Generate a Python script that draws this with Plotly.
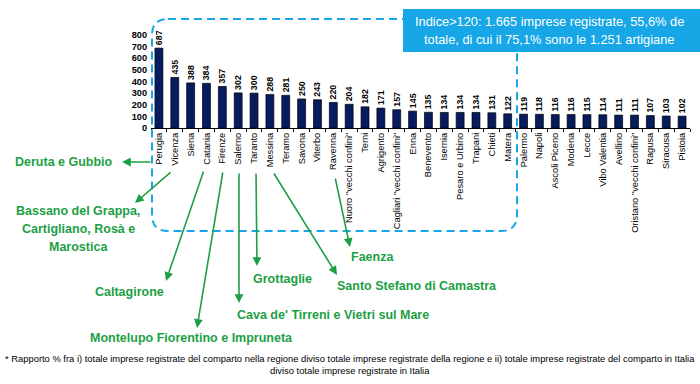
import plotly.graph_objects as go

categories = ["Perugia", "Vicenza", "Siena", "Catania", "Firenze", "Salerno", "Taranto",
              "Messina", "Teramo", "Savona", "Viterbo", "Ravenna", 'Nuoro "vecchi confini"',
              "Terni", "Agrigento", 'Cagliari "vecchi confini"', "Enna", "Benevento", "Isernia",
              "Pesaro e Urbino", "Trapani", "Chieti", "Matera", "Palermo", "Napoli",
              "Ascoli Piceno", "Modena", "Lecce", "Vibo Valentia", "Avellino",
              'Oristano "vecchi confini"', "Ragusa", "Siracusa", "Pistoia"]
values = [687, 435, 388, 384, 357, 302, 300, 288, 281, 250, 243, 220, 204, 182, 171, 157,
          145, 135, 134, 134, 134, 131, 122, 119, 118, 116, 116, 115, 114, 111, 111, 107,
          103, 102]
y_ticks = [0, 100, 200, 300, 400, 500, 600, 700, 800]

callout_lines = ["Indice>120: 1.665 imprese registrate, 55,6% de",
                 "totale, di cui il 75,1% sono le 1.251 artigiane"]

footnote = ("* Rapporto % fra i) totale imprese registrate del comparto nella regione diviso totale "
            "imprese registrate della regione e ii) totale imprese registrate del comparto in Italia"
            "<br>diviso totale imprese registrate in Italia")

W, H = 700, 384
L, R, T, B = 151, 10, 35, 256
PW, PH = W - L - R, H - T - B


def X(p):
    return (p - L) / PW


def Y(p):
    return (H - B - p) / PH


FONT = "Liberation Sans, Arial, sans-serif"
GREEN = "#1d9f45"
CYAN = "#17a6e6"

fig = go.Figure()
fig.add_trace(go.Bar(
    x=categories, y=values,
    marker=dict(color="#071c5e", line=dict(color="#000000", width=0.7)),
    text=[str(v) for v in values], textposition="outside", textangle=-90,
    constraintext="none",
    textfont=dict(family=FONT, size=8.8, color="#000000", weight="bold"),
    cliponaxis=False, hoverinfo="skip",
))

# dashed rounded box
x0, x1, y0, y1, r = 152, 517, 19, 231, 16
pts = [
    ("M", [(x0 + r, y0)]), ("L", [(x1 - r, y0)]), ("Q", [(x1, y0), (x1, y0 + r)]),
    ("L", [(x1, y1 - r)]), ("Q", [(x1, y1), (x1 - r, y1)]), ("L", [(x0 + r, y1)]),
    ("Q", [(x0, y1), (x0, y1 - r)]), ("L", [(x0, y0 + r)]), ("Q", [(x0, y0), (x0 + r, y0)]),
]
path = " ".join(c + " " + " ".join(f"{X(a):.5f},{Y(b):.5f}" for a, b in p) for c, p in pts) + " Z"
shapes = [
    dict(type="path", xref="paper", yref="paper", path=path,
         line=dict(color=CYAN, width=2, dash="8px,5px"), layer="above"),
    dict(type="rect", xref="paper", yref="paper", x0=X(403), x1=X(706), y0=Y(52), y1=Y(9),
         fillcolor=CYAN, line=dict(width=0), layer="above"),
]

annotations = []
for line, yy in zip(callout_lines, [22, 40]):
    annotations.append(dict(xref="paper", yref="paper", x=X(549), y=Y(yy), text=line,
                            showarrow=False, xanchor="center", yanchor="middle",
                            font=dict(family=FONT, size=12.8, color="#ffffff")))

# green arrows: (tail px, head px)
arrows = [
    ((152, 162), (122, 162)),
    ((172, 171), (135, 203)),
    ((204, 170), (166, 281)),
    ((223, 171), (197, 328)),
    ((239, 172), (239, 303)),
    ((256, 172), (257, 266)),
    ((273, 172), (337, 275)),
    ((335, 177), (350, 247)),
]
for (tx, ty), (hx, hy) in arrows:
    annotations.append(dict(xref="paper", yref="paper", x=X(hx), y=Y(hy), text="",
                            showarrow=True, axref="pixel", ayref="pixel",
                            ax=tx - hx, ay=ty - hy, arrowhead=2, arrowsize=1.1,
                            arrowwidth=1.6, arrowcolor=GREEN, standoff=0, startstandoff=0))

green_texts = [
    ("Deruta e Gubbio", 64, 162),
    ("Bassano del Grappa,", 78, 211),
    ("Cartigliano, Rosà e", 78, 229),
    ("Marostica", 78, 247),
    ("Caltagirone", 129, 292),
    ("Montelupo Fiorentino e Impruneta", 191, 338),
    ("Cava de' Tirreni e Vietri sul Mare", 333, 315),
    ("Grottaglie", 282, 279),
    ("Santo Stefano di Camastra", 417, 286),
    ("Faenza", 372, 257),
]
for txt, cx, cy in green_texts:
    annotations.append(dict(xref="paper", yref="paper", x=X(cx), y=Y(cy), text=txt,
                            showarrow=False, xanchor="center", yanchor="middle",
                            font=dict(family=FONT, size=12.5, color=GREEN, weight="bold")))

annotations.append(dict(xref="paper", yref="paper", x=X(350), y=Y(364), text=footnote,
                        showarrow=False, xanchor="center", yanchor="middle", align="center",
                        font=dict(family=FONT, size=9.4, color="#000000")))

fig.update_layout(
    width=W, height=H, margin=dict(l=L, r=R, t=T, b=B, autoexpand=False),
    paper_bgcolor="#ffffff", plot_bgcolor="#ffffff", showlegend=False, bargap=0.5,
    shapes=shapes, annotations=annotations, hovermode=False,
)
fig.update_xaxes(type="category", tickangle=-90, ticks="outside", tickson="boundaries",
                 ticklen=3, tickcolor="#000000", showline=True, linecolor="#000000", linewidth=1,
                 tickfont=dict(family=FONT, size=9.3, color="#000000"), showgrid=False)
fig.update_yaxes(range=[0, 800], tickvals=y_ticks, showgrid=False, zeroline=False,
                 showline=False, ticks="", ticklabelstandoff=3,
                 tickfont=dict(family=FONT, size=9.2, color="#000000", weight="bold"))

fig.write_html("out.html", config={"displayModeBar": False},
               post_script="document.body.style.margin='0';")
